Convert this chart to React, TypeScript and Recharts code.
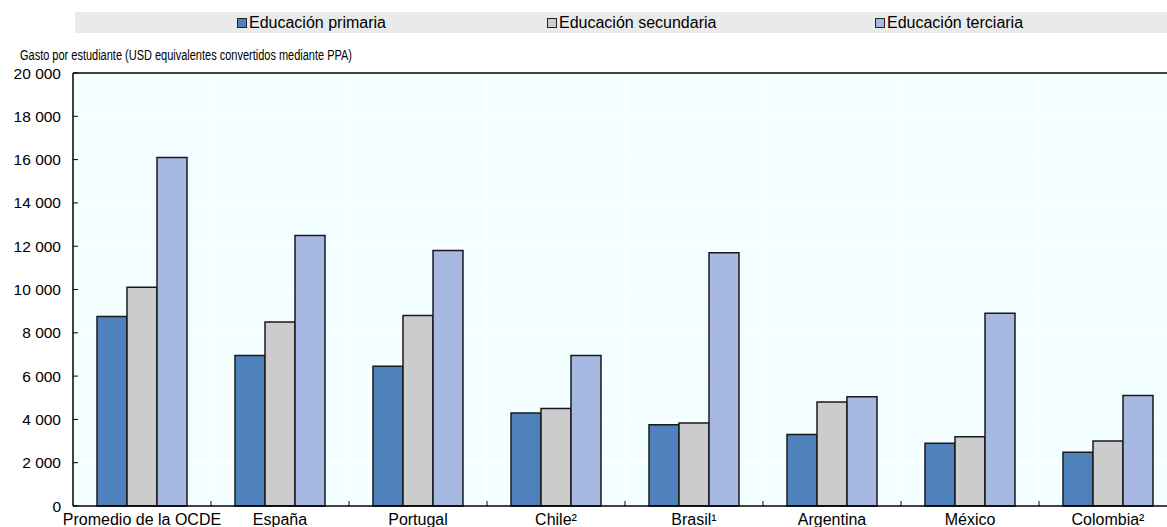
import React from "react";
import { Bar, BarChart, CartesianGrid, ReferenceLine, XAxis, YAxis } from "recharts";

const categories = ["Promedio de la OCDE", "España", "Portugal", "Chile²", "Brasil¹", "Argentina", "México", "Colombia²"];
const primaria = [8750, 6950, 6450, 4300, 3750, 3300, 2900, 2480];
const secundaria = [10100, 8500, 8800, 4500, 3830, 4800, 3200, 3000];
const terciaria = [16100, 12500, 11800, 6950, 11700, 5050, 8900, 5100];
const yTicks = [0, 2000, 4000, 6000, 8000, 10000, 12000, 14000, 16000, 18000, 20000];

const SERIES = [
  { key: "primaria", name: "Educación primaria", color: "#4F81BD" },
  { key: "secundaria", name: "Educación secundaria", color: "#CCCCCC" },
  { key: "terciaria", name: "Educación terciaria", color: "#A7B9E3" },
];
const LEGEND_LEFT = [237, 547, 875];

const data = categories.map((name, i) => ({
  name,
  primaria: primaria[i],
  secundaria: secundaria[i],
  terciaria: terciaria[i],
}));

const FONT = "'Liberation Sans', Arial, sans-serif";

const fmt = (v: number) => (v >= 1000 ? `${Math.floor(v / 1000)} ${String(v % 1000).padStart(3, "0")}` : String(v));

const YTick = (props: any) => {
  const { x, y, payload } = props;
  return (
    <g>
      <line x1={x + 12} x2={x + 17} y1={y} y2={y} stroke="#000" strokeWidth={1} />
      <text x={x} y={y} dy={5.5} textAnchor="end" fontSize={15.5} fontFamily={FONT} fill="#000">
        {fmt(payload.value)}
      </text>
    </g>
  );
};

const XTick = (props: any) => {
  const { x, y, payload, index } = props;
  const left = x - (payload.offset || 0);
  return (
    <g>
      {index > 0 && <line x1={left} x2={left} y1={y - 7} y2={y - 2} stroke="#000" strokeWidth={1} />}
      <text x={x} y={y} dy={17} textAnchor="middle" fontSize={16} fontFamily={FONT} fill="#000">
        {payload.value}
      </text>
    </g>
  );
};

export default function App() {
  return (
    <div style={{ position: "fixed", left: 0, top: 0, width: 1167, height: 527, overflow: "hidden", background: "#fff", fontFamily: FONT }}>
      <div style={{ position: "absolute", left: 75, top: 12, width: 1092, height: 21, background: "#EAEAEA" }} />
      {SERIES.map((s, i) => (
        <div
          key={s.key}
          style={{ position: "absolute", left: LEGEND_LEFT[i], top: 13, fontSize: 16, lineHeight: "19px", display: "flex", alignItems: "center", whiteSpace: "nowrap", color: "#000" }}
        >
          <span style={{ display: "inline-block", width: 8, height: 8, background: s.color, border: "1px solid #222", marginRight: 2 }} />
          {s.name}
        </div>
      ))}
      <svg style={{ position: "absolute", left: 0, top: 0, pointerEvents: "none" }} width={1167} height={72}>
        <text x={20} y={60} fontSize={14} fontFamily="'Liberation Sans Narrow', 'Arial Narrow', 'Liberation Sans', sans-serif" textLength={332} lengthAdjust="spacingAndGlyphs" fill="#000">
          Gasto por estudiante (USD equivalentes convertidos mediante PPA)
        </text>
      </svg>
      <div style={{ position: "absolute", left: 0, top: 0 }}>
        <BarChart
          width={1185}
          height={527}
          data={data}
          margin={{ top: 73, right: 8, left: 0, bottom: 0 }}
          barCategoryGap={24}
          barGap={0}
        >
          <CartesianGrid
            fill="#F2FEFF"
            stroke="#FFFFFF"
            strokeWidth={1.5}
            verticalCoordinatesGenerator={({ offset }: any) =>
              categories.map((_, i) => offset.left + (i * offset.width) / categories.length)
            }
          />
          <XAxis
            dataKey="name"
            interval={0}
            tickLine={false}
            axisLine={{ stroke: "#000", strokeWidth: 1.5 }}
            tick={<XTick />}
            tickSize={0}
            height={21}
          />
          <YAxis
            domain={[0, 20000]}
            ticks={yTicks}
            interval={0}
            width={73}
            tickLine={false}
            tickSize={0}
            tickMargin={12}
            axisLine={{ stroke: "#000", strokeWidth: 1.5 }}
            tick={<YTick />}
          />
          <ReferenceLine y={20000} stroke="#000" strokeWidth={1.5} ifOverflow="visible" />
          {SERIES.map((s) => (
            <Bar key={s.key} dataKey={s.key} name={s.name} fill={s.color} stroke="#1A1A1A" strokeWidth={1.5} isAnimationActive={false} />
          ))}
        </BarChart>
      </div>
    </div>
  );
}
